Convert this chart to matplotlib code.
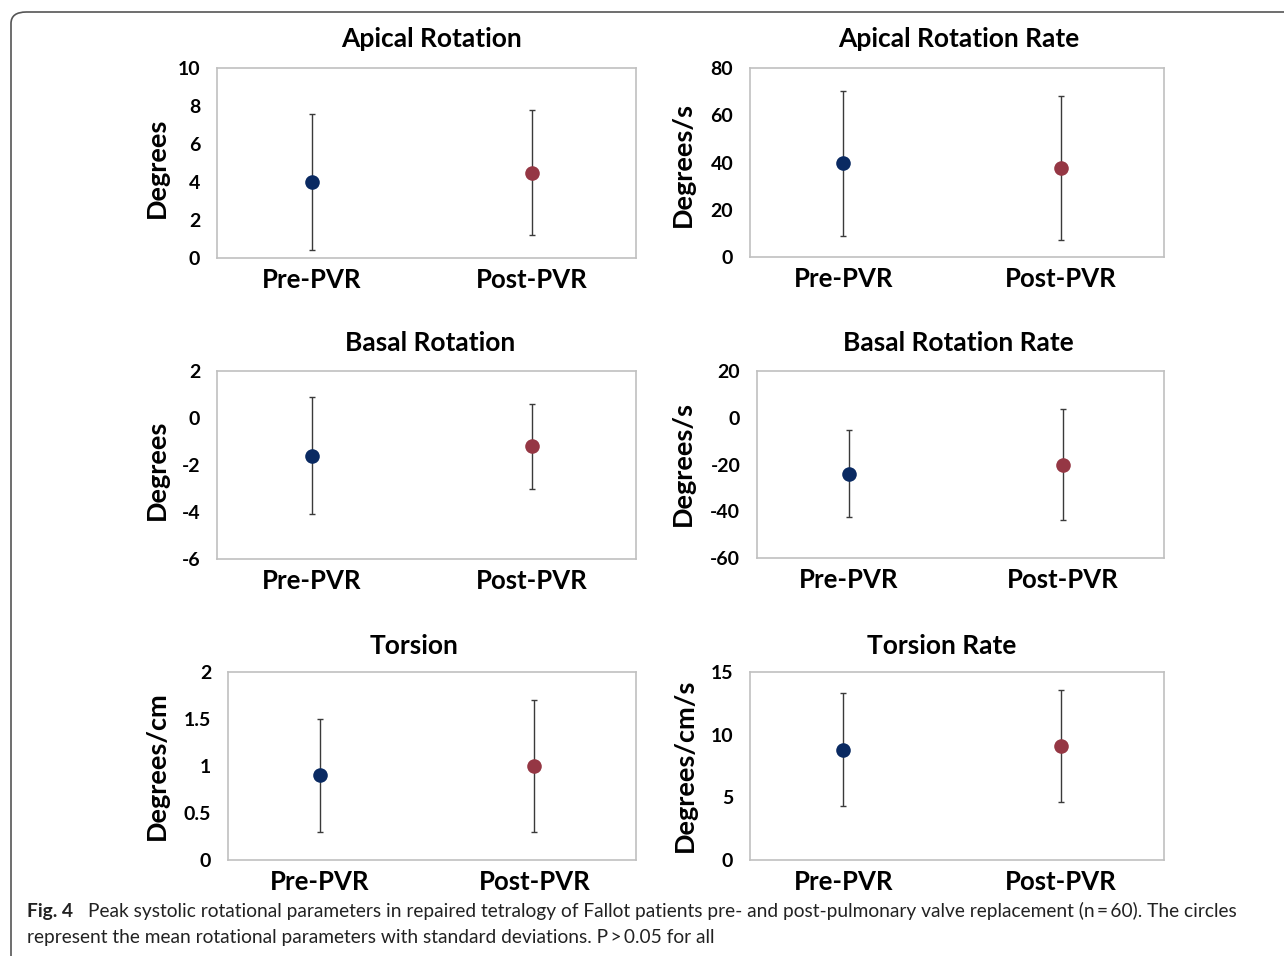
import matplotlib
matplotlib.use("Agg")
import matplotlib.pyplot as plt
from matplotlib.patches import FancyBboxPatch

plt.rcParams['font.family'] = ['Lato', 'DejaVu Sans']

# ---- data ----
groups = ["Pre-PVR", "Post-PVR"]
titles = ["Apical Rotation", "Apical Rotation Rate", "Basal Rotation",
          "Basal Rotation Rate", "Torsion", "Torsion Rate"]
ylabels = ["Degrees", "Degrees/s", "Degrees", "Degrees/s", "Degrees/cm", "Degrees/cm/s"]

apical_rot_mean = [4.0, 4.5]
apical_rot_sd = [3.6, 3.3]
apical_rate_mean = [39.7, 37.7]
apical_rate_sd = [30.6, 30.4]
basal_rot_mean = [-1.6, -1.2]
basal_rot_sd = [2.5, 1.8]
basal_rate_mean = [-23.9, -20.0]
basal_rate_sd = [18.6, 23.7]
torsion_mean = [0.9, 1.0]
torsion_sd = [0.6, 0.7]
torsion_rate_mean = [8.8, 9.1]
torsion_rate_sd = [4.5, 4.5]

means = [apical_rot_mean, apical_rate_mean, basal_rot_mean,
         basal_rate_mean, torsion_mean, torsion_rate_mean]
sds = [apical_rot_sd, apical_rate_sd, basal_rot_sd,
       basal_rate_sd, torsion_sd, torsion_rate_sd]
yticks = [[0, 2, 4, 6, 8, 10], [0, 20, 40, 60, 80], [-6, -4, -2, 0, 2],
          [-60, -40, -20, 0, 20], [0, 0.5, 1, 1.5, 2], [0, 5, 10, 15]]
yticklabels = [["0", "2", "4", "6", "8", "10"], ["0", "20", "40", "60", "80"],
               ["-6", "-4", "-2", "0", "2"], ["-60", "-40", "-20", "0", "20"],
               ["0", "0.5", "1", "1.5", "2"], ["0", "5", "10", "15"]]

colors = ["#0a2a62", "#953744"]

# ---- layout (pixels) ----
W, H = 1284, 956
fig = plt.figure(figsize=(W / 100, H / 100), dpi=100)

def rect(x0, y0, x1, y1):
    return [x0 / W, 1 - y1 / H, (x1 - x0) / W, (y1 - y0) / H]

axes_px = [(217, 68, 636, 258), (750, 68, 1164, 257),
           (217, 371, 636, 559), (757, 371, 1164, 558),
           (228, 672, 636, 860), (750, 672, 1164, 860)]
title_px = [(432, 39), (959, 39), (430, 343), (958, 343), (414, 646), (942, 646)]
ylabel_px = [(157, 168), (683, 165), (157, 470), (683, 464), (157, 766), (685, 765)]

x = [0, 1]
for i in range(6):
    ax = fig.add_axes(rect(*axes_px[i]))
    for j in range(2):
        ax.errorbar(x[j], means[i][j], yerr=sds[i][j], fmt='none',
                    ecolor='#3a3a3a', elinewidth=1.0, capsize=2.5, capthick=1.0, zorder=2)
        ax.plot(x[j], means[i][j], 'o', color=colors[j], markersize=10.5,
                markeredgewidth=0, zorder=3)
    ax.set_xlim(-0.43, 1.475)
    ax.set_ylim(yticks[i][0], yticks[i][-1])
    ax.set_yticks(yticks[i])
    ax.set_yticklabels(yticklabels[i], fontsize=14, fontweight='bold')
    ax.set_xticks(x)
    ax.set_xticklabels(groups, fontsize=18.5, fontweight='bold')
    ax.tick_params(axis='both', length=0)
    ax.tick_params(axis='y', pad=12)
    ax.tick_params(axis='x', pad=7)
    for s in ax.spines.values():
        s.set_color('#c0c0c0')
        s.set_linewidth(1.2)
    fig.text(title_px[i][0] / W, 1 - title_px[i][1] / H, titles[i],
             ha='center', va='center', fontsize=19, fontweight='bold')
    fig.text(ylabel_px[i][0] / W, 1 - ylabel_px[i][1] / H, ylabels[i],
             ha='center', va='center', rotation=90, fontsize=19.5, fontweight='bold')

# caption
cap_fs = 13.8
fig.text(27 / W, 1 - 911 / H, "Fig. 4", ha='left', va='center',
         fontsize=cap_fs, fontweight='bold', color='#222222')
fig.text(88 / W, 1 - 911 / H,
         "Peak systolic rotational parameters in repaired tetralogy of Fallot patients pre- and "
         "post-pulmonary valve replacement (n\u2009=\u200960). The circles",
         ha='left', va='center', fontsize=cap_fs, color='#222222')
fig.text(27 / W, 1 - 938 / H,
         "represent the mean rotational parameters with standard deviations. P\u2009>\u20090.05 for all",
         ha='left', va='center', fontsize=cap_fs, color='#222222')

# border
border = FancyBboxPatch((11 / W, -0.05), 1.2, 1 - 12 / H + 0.05,
                        boxstyle="round,pad=0,rounding_size=0.012",
                        transform=fig.transFigure, fill=False,
                        edgecolor='#555555', linewidth=1.2, clip_on=False)
fig.patches.append(border)

fig.savefig("out.png", dpi=100)
